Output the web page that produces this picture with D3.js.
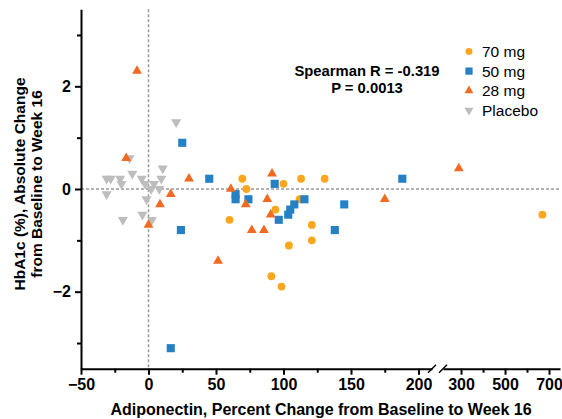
<!DOCTYPE html>
<html>
<head>
<meta charset="utf-8">
<script src="https://cdn.jsdelivr.net/npm/d3@7"></script>
<style>
  body { margin: 0; background: #fff; }
  svg { display: block; font-family: "Liberation Sans", Arial, sans-serif; }
</style>
</head>
<body>
<div id="chart"></div>
<script>
// values
const placeboX = [-31, -28, -21, -20, -12, -14, -5, -2.5, 4, 9.5, 10.5, 2, 8, -31, -1.5, -4.5, -19, 2.5, 20.5];
const placeboY = [0.2, 0.2, 0.2, 0.1, 0.3, 0.6, 0.2, 0.1, 0.1, 0.2, 0.4, 0.0, 0.0, -0.1, -0.2, -0.5, -0.6, -0.6, 1.3];

const mg70X = [69.5, 72.5, 100, 113, 130.5, 60, 94, 112, 121, 121, 104, 91, 98.5, 670];
const mg70Y = [0.2, 0.0, 0.1, 0.2, 0.2, -0.6, -0.4, -0.2, -0.7, -1.0, -1.1, -1.7, -1.9, -0.5];

const mg50X = [25, 45, 64.5, 64.5, 74, 93.5, 96.5, 103.5, 105, 108, 115.5, 145, 138, 188, 16.5, 24];
const mg50Y = [0.9, 0.2, -0.1, -0.2, -0.2, 0.1, -0.6, -0.5, -0.4, -0.3, -0.2, -0.3, -0.8, 0.2, -3.1, -0.8];

const mg28X = [-8.5, -16.5, 30, 16.5, 8.5, 0, 51.5, 61, 72, 76.5, 85.5, 88, 90.5, 91.5, 175, 290];
const mg28Y = [2.3, 0.6, 0.2, -0.1, -0.3, -0.7, -1.4, 0.0, -0.3, -0.8, -0.8, -0.2, -0.5, 0.3, -0.2, 0.4];

const xTicksLeft = [-50, 0, 50, 100, 150, 200];
const xMinorLeft = [-25, 25, 75, 125, 175];
const xTicksRight = [300, 500, 700];
const xMinorRight = [400, 600];
const yTicks = [-2, 0, 2];
const yMinor = [-3, -1, 1, 3];

const width = 562, height = 419;
const font = "'Liberation Sans', Arial, sans-serif";

const svg = d3.select("#chart").append("svg")
  .attr("width", width)
  .attr("height", height);

// broken x axis: two linear pieces
const xL = d3.scaleLinear().domain([-50, 210]).range([81, 432]);
const xR = d3.scaleLinear().domain([218, 750]).range([443, 560]);
const x = v => v <= 210 ? xL(v) : xR(v);
const y = d3.scaleLinear().domain([-3.5, 3.5]).range([368.7, 9.3]);

// dashed zero lines
svg.append("line")
  .attr("x1", xL(0)).attr("x2", xL(0))
  .attr("y1", y(3.5)).attr("y2", y(-3.5))
  .attr("stroke", "#9a9a9a").attr("stroke-width", 1.5)
  .attr("stroke-dasharray", "3,2");
svg.append("line")
  .attr("x1", xL(-50)).attr("x2", xR(750))
  .attr("y1", y(0)).attr("y2", y(0))
  .attr("stroke", "#9a9a9a").attr("stroke-width", 1.5)
  .attr("stroke-dasharray", "3,2");

function styleAxis(g) {
  g.selectAll(".domain").attr("stroke", "#000").attr("stroke-width", 2);
  g.selectAll(".tick line").attr("stroke", "#000").attr("stroke-width", 2);
  g.selectAll(".tick text")
    .attr("font-family", font).attr("font-size", 16)
    .attr("font-weight", "bold").attr("fill", "#000");
}

// x axis, left piece
svg.append("g")
  .attr("transform", `translate(0,${y(-3.5)})`)
  .call(d3.axisBottom(xL).tickValues(xTicksLeft).tickSize(6).tickSizeOuter(0).tickPadding(4))
  .call(styleAxis);
svg.append("g")
  .attr("transform", `translate(0,${y(-3.5)})`)
  .call(d3.axisBottom(xL).tickValues(xMinorLeft).tickSize(4).tickFormat("").tickSizeOuter(0))
  .call(g => g.select(".domain").remove())
  .call(styleAxis);

// x axis, right piece
svg.append("g")
  .attr("transform", `translate(0,${y(-3.5)})`)
  .call(d3.axisBottom(xR).tickValues(xTicksRight).tickSize(6).tickSizeOuter(0).tickPadding(4))
  .call(styleAxis);
svg.append("g")
  .attr("transform", `translate(0,${y(-3.5)})`)
  .call(d3.axisBottom(xR).tickValues(xMinorRight).tickSize(4).tickFormat("").tickSizeOuter(0))
  .call(g => g.select(".domain").remove())
  .call(styleAxis);

// break marks
const by = y(-3.5);
[xL.range()[1], xR.range()[0]].forEach(bx => {
  svg.append("line")
    .attr("x1", bx - 4).attr("y1", by + 4)
    .attr("x2", bx + 4).attr("y2", by - 4)
    .attr("stroke", "#000").attr("stroke-width", 1.5);
});

// y axis
svg.append("g")
  .attr("transform", `translate(${xL(-50)},0)`)
  .call(d3.axisLeft(y).tickValues(yTicks).tickSize(6).tickSizeOuter(0).tickPadding(4)
    .tickFormat(d3.format("d")))
  .call(styleAxis);
svg.append("g")
  .attr("transform", `translate(${xL(-50)},0)`)
  .call(d3.axisLeft(y).tickValues(yMinor).tickSize(4).tickFormat("").tickSizeOuter(0))
  .call(g => g.select(".domain").remove())
  .call(styleAxis);

// axis titles
svg.append("text")
  .attr("x", 321).attr("y", 415)
  .attr("text-anchor", "middle")
  .attr("font-family", font).attr("font-size", 16).attr("font-weight", "bold")
  .text("Adiponectin, Percent Change from Baseline to Week 16");

const yTitle = svg.append("text")
  .attr("transform", "translate(25,184) rotate(-90)")
  .attr("text-anchor", "middle")
  .attr("font-family", font).attr("font-size", 15.5).attr("font-weight", "bold");
yTitle.append("tspan").attr("x", 0).attr("dy", 0).text("HbA1c (%), Absolute Change");
yTitle.append("tspan").attr("x", 0).attr("dy", 17).text("from Baseline to Week 16");

// series
const series = [
  { name: "Placebo", xs: placeboX, ys: placeboY, color: "#bdbdbd", type: d3.symbolTriangle, size: 44, rot: 180 },
  { name: "70 mg", xs: mg70X, ys: mg70Y, color: "#fba71d", type: d3.symbolCircle, size: 48, rot: 0 },
  { name: "50 mg", xs: mg50X, ys: mg50Y, color: "#2680c4", type: d3.symbolSquare, size: 66, rot: 0 },
  { name: "28 mg", xs: mg28X, ys: mg28Y, color: "#f26a21", type: d3.symbolTriangle, size: 42, rot: 0 }
];

series.forEach(s => {
  const pts = s.xs.map((v, i) => ({ x: v, y: s.ys[i] }));
  svg.append("g").selectAll("path")
    .data(pts)
    .join("path")
    .attr("d", d3.symbol().type(s.type).size(s.size))
    .attr("transform", d => `translate(${x(d.x)},${y(d.y)}) rotate(${s.rot})`)
    .attr("fill", s.color);
});

// annotation
const note = svg.append("text")
  .attr("text-anchor", "middle")
  .attr("font-family", font).attr("font-size", 14.8).attr("font-weight", "bold");
note.append("tspan").attr("x", 367).attr("y", 76).text("Spearman R = -0.319");
note.append("tspan").attr("x", 367).attr("y", 93).text("P = 0.0013");

// legend
const legendOrder = ["70 mg", "50 mg", "28 mg", "Placebo"];
const legend = svg.append("g").attr("transform", "translate(469,51.5)");
legendOrder.forEach((name, i) => {
  const s = series.find(d => d.name === name);
  const row = legend.append("g").attr("transform", `translate(0,${i * 19.6})`);
  row.append("path")
    .attr("d", d3.symbol().type(s.type).size(s.size * 0.8))
    .attr("transform", `rotate(${s.rot})`)
    .attr("fill", s.color);
  row.append("text")
    .attr("x", 13).attr("y", 5.5)
    .attr("font-family", font).attr("font-size", 15.5)
    .text(name);
});
</script>
</body>
</html>
